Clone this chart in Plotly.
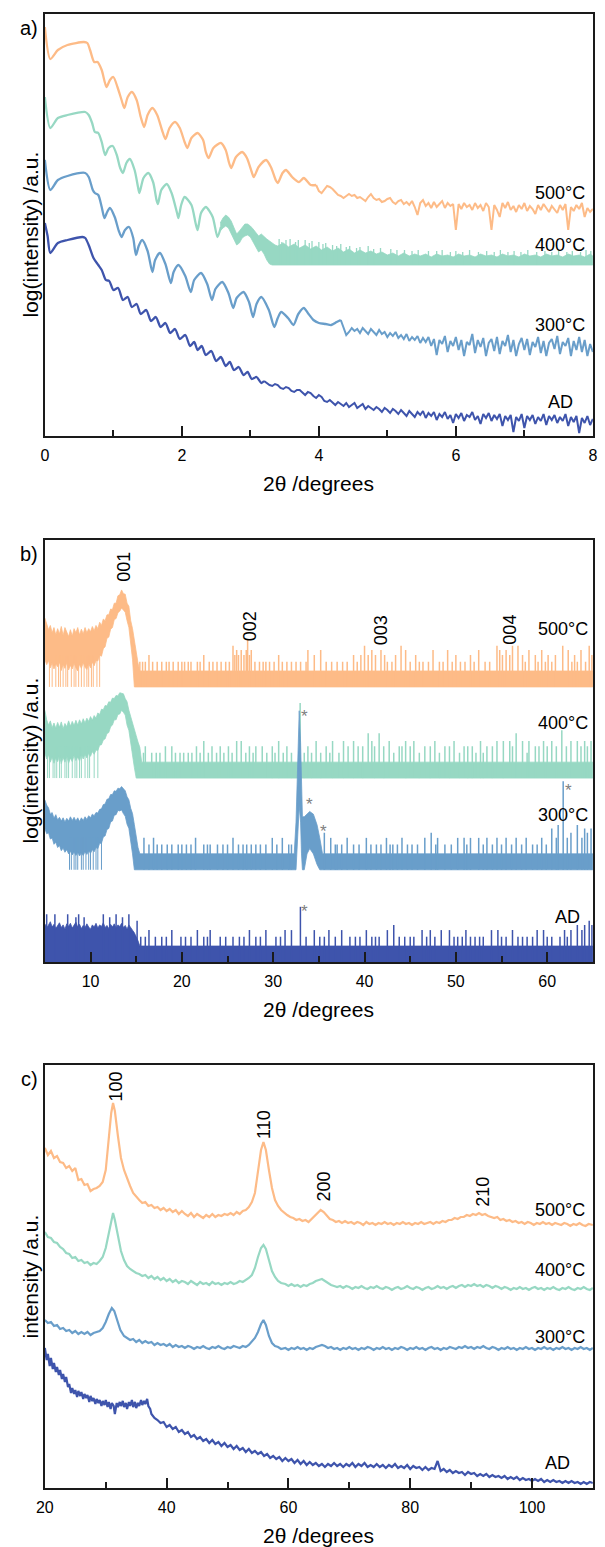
import math
import plotly.graph_objects as go

W, H = 605, 1547
FONT = "Liberation Sans, Arial, Helvetica, sans-serif"
COLORS = {"500": "#FDBB87", "400": "#97D8C3", "300": "#699ECA", "AD": "#3E54AC"}
SERIES_LABELS = {"500": "500°C", "400": "400°C", "300": "300°C", "AD": "AD"}

# ================= Panel a : XRR, log(intensity) in arbitrary units =================
a500_fringes = [(0.00,409),(0.08,377),(0.19,386),(0.33,391),(0.57,394),(0.62,393),(0.66,386),(0.72,374),(0.77,374),
    (0.83,366),(0.90,349),(0.95,356),(1.00,359),(1.06,349),(1.12,336),(1.16,328),(1.21,339),(1.27,344),(1.34,336),
    (1.40,319),(1.45,309),(1.50,321),(1.57,328),(1.64,321),(1.71,306),(1.76,297),(1.82,308),(1.90,314),(1.97,308),
    (2.04,294),(2.08,288),(2.14,298),(2.23,303),(2.31,296),(2.35,284),(2.39,278),(2.46,288),(2.57,293),(2.64,286),
    (2.69,273),(2.72,268),(2.79,279),(2.88,284),(2.95,278),(3.02,264),(3.05,259),(3.12,269),(3.23,276),(3.30,269),
    (3.37,256),(3.40,253),(3.47,263),(3.52,266),(3.61,259),(3.71,254),(3.78,258),(3.88,251),(3.96,251)]
a500_tail = [(3.96,251),(4.00,245),(4.04,243),(4.08,246),(4.12,250),(4.16,249),(4.20,247),(4.24,244),(4.28,241),
    (4.32,240),(4.36,238),(4.40,240),(4.44,242),(4.48,240),(4.52,241),(4.56,238),(4.60,239),(4.64,237),(4.68,235),
    (4.72,239),(4.76,242),(4.80,238),(4.84,236),(4.88,237),(4.92,234),(4.96,235),(5.00,237),(5.04,238),(5.08,234),
    (5.12,232),(5.16,235),(5.20,236),(5.24,232),(5.28,234),(5.32,231),(5.36,235),(5.40,229),(5.44,221),(5.48,233),
    (5.52,236),(5.56,230),(5.60,233),(5.64,228),(5.68,234),(5.72,229),(5.76,232),(5.80,235),(5.84,228),(5.88,233),
    (5.92,230),(5.96,232),(6.00,206),(6.04,232),(6.08,227),(6.12,233),(6.16,229),(6.20,231),(6.24,226),(6.28,233),
    (6.32,228),(6.36,231),(6.40,225),(6.44,233),(6.48,229),(6.52,206),(6.56,231),(6.60,226),(6.64,219),(6.68,233),
    (6.72,228),(6.76,234),(6.80,226),(6.84,230),(6.88,224),(6.92,231),(6.96,227),(7.00,233),(7.04,225),(7.08,230),
    (7.12,227),(7.16,222),(7.20,231),(7.24,226),(7.28,232),(7.32,228),(7.36,224),(7.40,230),(7.44,227),(7.48,223),
    (7.52,231),(7.56,226),(7.60,232),(7.64,206),(7.68,229),(7.72,225),(7.76,231),(7.80,227),(7.84,233),(7.88,219),
    (7.92,228),(7.96,224),(8.00,227)]
a400_fringes = [(0.00,339),(0.08,308),(0.19,318),(0.33,321),(0.59,324),(0.64,321),(0.69,313),(0.73,304),(0.78,303),
    (0.83,294),(0.88,281),(0.93,288),(0.99,290),(1.05,281),(1.10,268),(1.14,263),(1.19,273),(1.24,277),(1.31,266),
    (1.36,249),(1.38,243),(1.44,258),(1.51,263),(1.58,254),(1.63,236),(1.65,232),(1.70,246),(1.78,252),(1.85,243),
    (1.93,223),(1.95,218),(1.99,231),(2.04,239),(2.14,231),(2.20,213),(2.23,206),(2.28,223),(2.35,229),(2.45,219),
    (2.52,199),(2.57,209)]
# noisy / count-limited part of the 400 C scan: (2theta, lower edge, upper edge)
a400_band = [(2.56,205,213),(2.60,208,218),(2.64,210,221),(2.68,208,219),(2.72,203,215),(2.76,197,209),(2.80,191,202),
    (2.84,193,205),(2.88,198,209),(2.92,200,212),(2.96,201,212),(3.00,199,210),(3.04,195,207),(3.08,189,203),
    (3.12,184,200),(3.16,186,202),(3.20,182,199),(3.24,176,197),(3.28,172,195),(3.32,171,193),(3.36,171,191),
    (3.40,171,190),(3.48,171,193),(3.56,171,189),(3.64,171,192),(3.72,171,188),(3.80,171,191),(3.88,171,187),
    (3.96,171,190),(4.04,171,186),(4.12,171,189),(4.20,171,185),(4.28,171,188),(4.36,171,184),(4.44,171,187),
    (4.52,171,183),(4.60,171,186),(4.68,171,183),(4.76,171,185),(4.84,171,182),(4.92,171,184),(5.00,171,181),
    (5.08,171,183),(5.16,171,180),(5.24,171,183),(5.32,171,180),(5.40,171,182),(5.48,171,180),(5.56,171,182),
    (5.64,171,179),(5.72,171,182),(5.80,171,180),(5.88,171,181),(5.96,171,179),(6.04,171,182),(6.12,171,180),
    (6.20,171,181),(6.28,171,179),(6.36,171,182),(6.44,171,180),(6.52,171,181),(6.60,171,179),(6.68,171,182),
    (6.76,171,180),(6.84,171,181),(6.92,171,179),(7.00,171,182),(7.08,171,180),(7.16,171,181),(7.24,171,179),
    (7.32,171,182),(7.40,171,180),(7.48,171,181),(7.56,171,179),(7.64,171,182),(7.72,171,180),(7.80,171,181),
    (7.88,171,179),(7.96,171,182),(8.00,171,180)]
a400_spikes = [(3.42,197),(3.46,194),(3.52,196),(3.58,197),(3.66,194),(3.70,196),(3.80,196),(3.86,193),(3.90,195),
    (4.00,194),(4.06,192),(4.10,193),(4.20,191),(4.26,190),(4.32,192),(4.40,189),(4.45,190),(4.55,188),(4.60,189),
    (4.72,190),(4.80,187),(4.90,188),(5.05,187),(5.14,186),(5.25,186),(5.36,185),(5.45,186),(5.60,185),(5.72,185),
    (5.80,186),(5.92,184),(6.00,185),(6.10,184),(6.20,186),(6.33,184),(6.45,185),(6.56,184),(6.65,186),(6.76,184),
    (6.85,185),(6.95,184),(7.05,186),(7.18,184),(7.30,185),(7.40,184),(7.50,186),(7.62,184),(7.70,185),(7.82,184),
    (7.90,186),(7.97,185)]
a300_fringes = [(0.00,276),(0.08,246),(0.19,256),(0.33,260),(0.59,263),(0.64,259),(0.70,246),(0.73,243),(0.78,241),
    (0.83,229),(0.87,218),(0.91,224),(0.95,228),(1.02,219),(1.08,205),(1.12,199),(1.17,206),(1.23,209),(1.29,198),
    (1.33,181),(1.37,190),(1.42,196),(1.50,185),(1.57,164),(1.61,176),(1.68,183),(1.76,172),(1.84,153),(1.88,164),
    (1.95,171),(2.05,160),(2.13,144),(2.18,156),(2.28,163),(2.37,152),(2.44,136),(2.49,147),(2.59,154),(2.68,143),
    (2.75,128),(2.80,138),(2.90,144),(2.98,134),(3.04,119),(3.09,132),(3.16,139),(3.27,126),(3.35,109),(3.40,118),
    (3.45,124),(3.55,118),(3.63,111),(3.70,122),(3.78,128),(3.85,122),(3.92,116),(4.00,113),(4.10,112),(4.18,111),
    (4.26,114),(4.32,116)]
a300_tail = [(4.32,116),(4.36,108),(4.40,101),(4.44,104),(4.48,108),(4.52,105),(4.56,107),(4.60,103),(4.64,108),
    (4.68,105),(4.72,102),(4.76,107),(4.80,104),(4.84,101),(4.88,106),(4.92,102),(4.96,104),(5.00,99),(5.04,103),
    (5.08,100),(5.12,104),(5.16,98),(5.20,101),(5.24,97),(5.28,102),(5.32,95),(5.36,99),(5.40,96),(5.44,100),
    (5.48,93),(5.52,98),(5.56,94),(5.60,99),(5.64,90),(5.68,97),(5.72,81),(5.76,96),(5.80,92),(5.84,100),(5.88,84),
    (5.92,95),(5.96,90),(6.00,99),(6.04,86),(6.08,96),(6.12,80),(6.16,94),(6.20,91),(6.24,102),(6.28,83),(6.32,96),
    (6.36,89),(6.40,98),(6.44,80),(6.48,93),(6.52,97),(6.56,85),(6.60,99),(6.64,82),(6.68,95),(6.72,90),(6.76,101),
    (6.80,84),(6.84,96),(6.88,80),(6.92,92),(6.96,98),(7.00,86),(7.04,97),(7.08,81),(7.12,94),(7.16,89),(7.20,99),
    (7.24,83),(7.28,95),(7.32,80),(7.36,93),(7.40,97),(7.44,87),(7.48,100),(7.52,82),(7.56,94),(7.60,90),(7.64,98),
    (7.68,80),(7.72,95),(7.76,86),(7.80,99),(7.84,84),(7.88,96),(7.92,80),(7.96,92),(8.00,84)]
aAD_fringes = [(0.00,213),(0.04,200),(0.08,183),(0.19,193),(0.33,196),(0.55,199),(0.59,198),(0.64,191),(0.71,178),
    (0.78,171),(0.83,166),(0.89,156),(0.94,155),(1.00,146),(1.07,148),(1.14,136),(1.21,139),(1.27,129),(1.34,132),
    (1.40,122),(1.48,126),(1.55,115),(1.62,119),(1.69,109),(1.76,113),(1.83,103),(1.90,107),(1.97,97),(2.05,101),
    (2.12,90),(2.18,94),(2.23,86),(2.29,90),(2.35,81),(2.43,85),(2.50,75),(2.57,79),(2.64,70),(2.70,74),(2.76,66),
    (2.83,69),(2.90,61),(2.96,64),(3.02,57),(3.09,59),(3.16,53),(3.20,55)]
aAD_tail = [(3.20,55),(3.24,53),(3.28,51),(3.32,50),(3.36,52),(3.40,51),(3.44,48),(3.48,47),(3.52,49),(3.56,48),
    (3.60,45),(3.64,44),(3.68,46),(3.72,46),(3.76,43),(3.80,41),(3.84,44),(3.88,43),(3.92,40),(3.96,38),(4.00,41),
    (4.04,39),(4.08,35),(4.12,34),(4.16,36),(4.20,33),(4.24,31),(4.28,34),(4.32,32),(4.36,30),(4.40,33),(4.44,29),
    (4.48,31),(4.52,33),(4.56,28),(4.60,30),(4.64,32),(4.68,27),(4.72,30),(4.76,28),(4.80,26),(4.84,29),(4.88,27),
    (4.92,24),(4.96,28),(5.00,26),(5.04,23),(5.08,27),(5.12,25),(5.16,22),(5.20,26),(5.24,23),(5.28,20),(5.32,25),
    (5.36,22),(5.40,19),(5.44,24),(5.48,21),(5.52,25),(5.56,18),(5.60,23),(5.64,20),(5.68,24),(5.72,16),(5.76,22),
    (5.80,19),(5.84,24),(5.88,17),(5.92,21),(5.96,13),(6.00,22),(6.04,18),(6.08,23),(6.12,15),(6.16,21),(6.20,19),
    (6.24,24),(6.28,16),(6.32,20),(6.36,12),(6.40,22),(6.44,18),(6.48,23),(6.52,15),(6.56,21),(6.60,17),(6.64,22),
    (6.68,10),(6.72,20),(6.76,16),(6.80,21),(6.84,4),(6.88,19),(6.92,15),(6.96,22),(7.00,8),(7.04,20),(7.08,16),
    (7.12,21),(7.16,12),(7.20,19),(7.24,15),(7.28,22),(7.32,11),(7.36,20),(7.40,16),(7.44,21),(7.48,13),(7.52,19),
    (7.56,15),(7.60,22),(7.64,10),(7.68,19),(7.72,14),(7.76,20),(7.80,3),(7.84,18),(7.88,13),(7.92,20),(7.96,11),
    (8.00,17)]

# ================= Panel b : GIXRD, log10(counts) above each scan's floor =================
b_offsets = {"500": 5.19, "400": 3.47, "300": 1.74, "AD": 0.0}
# (2theta, lower edge, upper edge) of the dense noise band, decades above floor
b500_band = [(5.0,0.52,1.30),(5.2,0.42,1.18),(5.4,0.50,1.08),(5.6,0.36,1.16),(5.8,0.46,1.02),(6.0,0.34,1.12),
    (6.2,0.44,0.98),(6.4,0.38,1.10),(6.6,0.47,1.00),(6.8,0.31,1.14),(7.0,0.43,0.97),(7.2,0.35,1.12),(7.4,0.46,1.03),
    (7.6,0.32,0.95),(7.8,0.41,1.08),(8.0,0.34,0.96),(8.2,0.45,1.10),(8.4,0.36,1.02),(8.6,0.30,1.12),(8.8,0.43,0.98),
    (9.0,0.35,1.09),(9.2,0.46,1.00),(9.4,0.37,1.12),(9.6,0.33,1.02),(9.8,0.44,1.10),(10.0,0.36,1.04),(10.2,0.47,1.14),
    (10.4,0.40,1.06),(10.6,0.50,1.16),(10.8,0.49,1.10),(11.0,0.60,1.22),(11.2,0.58,1.16),(11.4,0.72,1.28),
    (11.6,0.76,1.25),(11.8,0.92,1.36),(12.0,0.94,1.36),(12.2,1.09,1.47),(12.4,1.12,1.46),(12.6,1.27,1.58),
    (12.8,1.29,1.58),(13.0,1.40,1.72),(13.2,1.43,1.74),(13.4,1.49,1.83),(13.6,1.45,1.76),(13.8,1.41,1.75),
    (14.0,1.25,1.58),(14.2,1.12,1.52),(14.4,0.82,1.25),(14.6,0.52,1.10),(14.8,0.0,0.85),(15.0,0.0,0.62),
    (15.2,0.0,0.45),(15.4,0.0,0.301),(65.0,0.0,0.301)]
b400_band = [(5.0,0.48,1.28),(5.2,0.36,1.10),(5.4,0.44,1.00),(5.6,0.30,1.08),(5.8,0.40,0.95),(6.0,0.28,1.04),
    (6.2,0.38,0.94),(6.4,0.31,1.05),(6.6,0.42,0.96),(6.8,0.27,1.06),(7.0,0.39,0.93),(7.2,0.30,1.03),(7.4,0.41,0.97),
    (7.6,0.28,1.08),(7.8,0.38,0.98),(8.0,0.31,1.07),(8.2,0.43,0.99),(8.4,0.33,1.09),(8.6,0.40,1.00),(8.8,0.32,1.10),
    (9.0,0.44,1.02),(9.2,0.36,1.12),(9.4,0.45,1.04),(9.6,0.38,1.13),(9.8,0.47,1.07),(10.0,0.41,1.16),(10.2,0.50,1.09),
    (10.4,0.45,1.18),(10.6,0.53,1.13),(10.8,0.52,1.23),(11.0,0.62,1.20),(11.2,0.63,1.30),(11.4,0.72,1.29),
    (11.6,0.74,1.37),(11.8,0.84,1.36),(12.0,0.86,1.44),(12.2,0.97,1.43),(12.4,1.00,1.51),(12.6,1.10,1.50),
    (12.8,1.10,1.56),(13.0,1.20,1.55),(13.2,1.21,1.61),(13.4,1.28,1.60),(13.6,1.24,1.59),(13.8,1.19,1.50),
    (14.0,1.00,1.44),(14.2,0.90,1.28),(14.4,0.70,1.17),(14.6,0.47,1.03),(14.8,0.20,0.94),(15.0,0.0,0.80),
    (15.2,0.0,0.68),(15.4,0.0,0.58),(15.6,0.0,0.301),(65.0,0.0,0.301)]
b300_band = [(5.0,0.78,1.32),(5.2,0.68,1.22),(5.4,0.70,1.17),(5.6,0.58,1.05),(5.8,0.60,1.08),(6.0,0.48,0.97),
    (6.2,0.52,1.04),(6.4,0.42,0.94),(6.6,0.46,0.99),(6.8,0.36,0.92),(7.0,0.41,0.98),(7.2,0.33,0.90),(7.4,0.38,0.97),
    (7.6,0.30,0.92),(7.8,0.35,1.00),(8.0,0.28,0.93),(8.2,0.34,0.99),(8.4,0.27,0.92),(8.6,0.33,0.98),(8.8,0.26,0.91),
    (9.0,0.32,0.98),(9.2,0.27,0.93),(9.4,0.34,1.00),(9.6,0.29,0.95),(9.8,0.36,1.02),(10.0,0.31,0.98),(10.2,0.38,1.05),
    (10.4,0.34,1.02),(10.6,0.42,1.08),(10.8,0.40,1.07),(11.0,0.50,1.14),(11.2,0.50,1.15),(11.4,0.62,1.23),
    (11.6,0.64,1.24),(11.8,0.76,1.33),(12.0,0.78,1.34),(12.2,0.90,1.42),(12.4,0.92,1.42),(12.6,1.03,1.49),
    (12.8,1.04,1.48),(13.0,1.12,1.54),(13.2,1.11,1.53),(13.4,1.13,1.57),(13.6,1.06,1.52),(13.8,1.01,1.49),
    (14.0,0.86,1.38),(14.2,0.78,1.32),(14.4,0.53,1.16),(14.6,0.30,1.06),(14.8,0.0,0.85),(15.0,0.0,0.60),
    (15.2,0.0,0.42),(15.4,0.0,0.301),(32.3,0.0,0.301),(32.5,0.0,0.90),(32.7,0.60,2.20),(32.85,1.20,3.00),
    (33.0,0.90,2.40),(33.1,0.30,1.30),(33.2,0.0,1.00),(33.4,0.0,1.00),(33.7,0.30,1.05),(34.0,0.40,1.10),
    (34.4,0.30,1.05),(34.8,0.10,0.85),(35.1,0.0,0.60),(35.4,0.0,0.301),(65.0,0.0,0.301)]
bAD_band = [(5.0,0.0,0.72),(5.2,0.0,0.64),(5.4,0.0,0.70),(5.6,0.0,0.76),(5.8,0.0,0.66),(6.0,0.0,0.71),(6.2,0.0,0.63),
    (6.4,0.0,0.69),(6.6,0.0,0.74),(6.8,0.0,0.65),(7.0,0.0,0.70),(7.2,0.0,0.62),(7.4,0.0,0.72),(7.6,0.0,0.67),
    (7.8,0.0,0.73),(8.0,0.0,0.64),(8.2,0.0,0.70),(8.4,0.0,0.75),(8.6,0.0,0.66),(8.8,0.0,0.71),(9.0,0.0,0.63),
    (9.2,0.0,0.69),(9.4,0.0,0.65),(9.6,0.0,0.72),(9.8,0.0,0.66),(10.0,0.0,0.62),(10.2,0.0,0.70),(10.4,0.0,0.66),
    (10.6,0.0,0.73),(10.8,0.0,0.64),(11.0,0.0,0.70),(11.2,0.0,0.67),(11.4,0.0,0.74),(11.6,0.0,0.65),(11.8,0.0,0.69),
    (12.0,0.0,0.63),(12.2,0.0,0.71),(12.4,0.0,0.66),(12.6,0.0,0.72),(12.8,0.0,0.64),(13.0,0.0,0.70),(13.2,0.0,0.67),
    (13.4,0.0,0.73),(13.6,0.0,0.65),(13.8,0.0,0.69),(14.0,0.0,0.62),(14.2,0.0,0.70),(14.4,0.0,0.64),(14.6,0.0,0.60),
    (14.8,0.0,0.55),(15.0,0.0,0.48),(15.2,0.0,0.40),(15.4,0.0,0.301),(65.0,0.0,0.301)]
# isolated count spikes above the band: (2theta, counts)
b500_spikes = [(15.4,3),(15.7,3),(16.0,3),(16.4,4),(16.8,3),(17.3,3),(17.8,3),(18.3,3),(18.6,3),(19.05,3),(19.6,3),
    (20.0,3),(20.3,3),(20.7,3),(21.0,3),(21.7,3),(22.0,3),(22.4,4),(23.0,3),(23.4,3),(23.85,3),(24.3,3),(24.8,3),
    (25.2,3),(25.6,6),(25.8,4),(26.0,5),(26.2,4),(26.5,5),(26.8,4),(27.05,5),(27.2,8),(27.4,4),(27.6,5),(28.0,3),
    (28.5,3),(28.9,3),(29.2,3),(29.6,3),(30.1,3),(30.6,4),(31.0,3),(31.5,3),(32.0,3),(32.5,3),(33.0,3),(33.6,3),
    (33.8,5),(34.5,4),(35.2,5),(35.8,3),(36.4,3),(37.0,3),(37.6,3),(38.1,3),(38.8,4),(39.2,3),(39.6,4),(40.0,6),
    (40.4,4),(40.8,5),(41.2,4),(41.8,5),(42.2,4),(42.5,3),(43.0,3),(43.4,4),(44.0,6),(44.5,5),(45.0,3),(45.6,4),
    (46.0,3),(46.4,3),(47.0,3),(47.5,5),(48.2,3),(48.6,3),(49.1,5),(49.6,3),(50.0,4),(50.5,3),(51.0,3),(51.6,4),
    (52.0,3),(52.5,5),(53.2,3),(53.7,3),(54.5,6),(54.8,5),(55.1,4),(55.5,5),(55.9,4),(56.2,6),(56.8,6),(57.3,4),
    (57.6,3),(58.0,5),(58.7,4),(59.0,3),(59.4,5),(59.8,3),(60.1,4),(60.5,3),(60.9,4),(61.7,6),(62.3,5),(62.7,3),
    (63.0,4),(63.3,3),(63.7,5),(64.2,3),(64.6,6),(64.9,4)]
b400_spikes = [(15.8,3),(16.0,4),(16.7,3),(17.2,3),(17.6,3),(18.2,4),(18.9,4),(19.3,3),(19.8,3),(20.2,3),(20.7,3),
    (21.1,3),(21.6,4),(22.0,3),(22.4,5),(22.9,3),(23.3,4),(23.8,3),(24.2,4),(24.6,3),(25.1,4),(25.5,3),(26.0,5),
    (26.5,5),(27.0,3),(27.4,4),(27.8,3),(28.1,4),(28.8,4),(29.3,3),(29.9,4),(30.2,3),(30.6,5),(31.1,3),(31.5,4),
    (32.0,3),(32.95,26),(33.4,3),(33.8,4),(34.2,3),(34.7,5),(35.2,3),(35.8,4),(36.2,3),(36.5,5),(37.2,3),(37.7,5),
    (38.2,4),(38.8,5),(39.3,4),(39.8,4),(40.4,7),(40.8,5),(41.1,4),(41.6,7),(42.1,4),(42.7,5),(43.2,3),(43.8,4),
    (44.1,4),(44.5,5),(45.0,4),(45.4,5),(46.0,3),(46.6,4),(47.2,4),(47.7,5),(48.2,3),(48.8,4),(49.3,4),(49.8,5),
    (50.4,3),(50.9,4),(51.3,4),(51.8,4),(52.2,3),(52.7,5),(53.0,3),(53.4,4),(54.0,4),(54.5,5),(55.2,5),(55.9,5),
    (56.2,4),(56.6,7),(57.3,5),(57.8,3),(58.0,5),(58.7,4),(59.1,4),(59.6,5),(60.0,4),(60.5,5),(61.0,4),(61.6,8),
    (62.1,4),(62.6,5),(63.3,5),(63.7,4),(64.1,5),(64.4,4),(64.8,5)]
b300_spikes = [(15.85,4),(16.4,3),(16.9,4),(17.3,3),(17.8,3),(18.4,3),(18.9,3),(19.6,3),(20.0,3),(20.5,3),(21.0,3),
    (21.5,4),(22.4,3),(22.8,3),(23.1,3),(23.9,3),(24.5,3),(25.0,3),(25.6,4),(26.2,3),(26.7,3),(27.1,3),(27.6,3),
    (28.1,3),(28.6,3),(29.2,3),(29.9,4),(30.4,3),(31.0,4),(31.7,3),(32.0,3),(35.6,5),(36.3,4),(36.8,3),(37.0,3),
    (37.5,3),(38.1,4),(38.8,3),(39.4,3),(40.2,4),(40.7,3),(41.3,3),(41.8,3),(42.4,4),(42.8,3),(43.1,3),(43.6,3),
    (44.1,4),(44.7,3),(45.2,3),(45.8,3),(46.6,4),(47.3,5),(47.8,3),(48.0,4),(48.8,3),(49.5,3),(50.2,4),(50.9,4),
    (51.2,3),(51.6,4),(52.5,4),(53.0,3),(53.4,4),(54.0,3),(54.5,4),(55.0,3),(55.5,4),(56.1,3),(56.6,4),(57.2,3),
    (57.7,4),(58.4,3),(58.9,3),(59.4,4),(59.9,3),(60.5,6),(61.0,4),(61.2,7),(61.75,47),(62.2,4),(62.6,5),(63.3,7),
    (63.8,4),(64.1,6),(64.4,5),(64.8,6)]
bAD_spikes = [(5.2,8),(6.1,8),(7.5,8),(8.4,7),(8.7,8),(9.3,7),(11.4,8),(12.1,7),(12.8,8),(13.5,7),(14.2,8),(15.1,6),
    (15.5,3),(16.0,3),(16.4,4),(17.1,3),(17.8,3),(18.3,3),(18.9,4),(19.9,3),(20.4,3),(21.0,3),(21.7,4),(22.4,3),
    (22.8,3),(23.1,4),(24.2,3),(24.8,3),(25.6,3),(26.3,3),(26.8,3),(27.4,4),(28.1,3),(28.6,3),(29.2,4),(30.3,3),
    (30.8,3),(31.3,4),(32.0,4),(32.98,11),(33.6,3),(34.5,4),(35.1,3),(35.6,3),(36.1,4),(36.8,3),(37.5,4),(38.4,3),
    (39.0,3),(39.5,3),(40.2,4),(40.8,3),(41.2,3),(41.6,3),(42.5,4),(43.2,5),(43.8,3),(44.4,3),(45.0,3),(45.4,3),
    (46.3,4),(46.8,3),(47.2,4),(47.7,3),(48.4,4),(49.3,4),(49.8,3),(50.2,3),(50.7,3),(51.1,4),(51.6,3),(52.1,3),
    (52.6,3),(53.0,3),(53.9,4),(54.6,4),(55.0,3),(55.5,3),(56.2,4),(56.8,3),(57.3,3),(57.8,3),(58.4,3),(58.9,4),
    (59.6,4),(60.0,3),(60.5,3),(61.4,3),(61.9,4),(62.2,3),(62.6,4),(63.3,5),(63.8,4),(64.1,5),(64.6,6),(64.9,5)]
# positions where the low-angle noise drops to the floor
b500_dips = [5.5, 5.8, 6.2, 6.5, 6.7, 7.0, 7.3, 7.5, 7.9, 8.2, 8.4, 8.7, 9.0, 9.3, 9.6, 9.8, 10.1, 10.3, 10.7, 11.0]
b400_dips = [5.3, 5.5, 5.9, 6.1, 6.3, 6.6, 6.8, 7.2, 7.4, 7.6, 8.0, 8.3, 8.5, 8.8, 9.0, 9.4, 9.7, 9.9, 10.4, 10.8]
b300_dips = [7.7, 7.9, 8.2, 8.4, 8.6, 9.0, 9.2, 9.5, 9.8, 10.0, 10.3, 10.6, 10.8, 11.2]
b_hkl = ["001", "002", "003", "004"]

# ================= Panel c : in-plane, intensity in arbitrary units =================
c500 = [(20.0,340),(20.5,333),(21.0,337),(21.5,330),(22.0,332),(22.5,326),(23.0,325),(23.5,320),(24.0,322),
    (24.5,317),(25.0,320),(25.5,308),(26.0,309),(26.5,303),(27.0,304),(27.5,297),(28.0,299),(28.5,300),(29.0,302),
    (29.5,306),(30.0,318),(30.5,348),(30.9,375),(31.2,385),(31.5,377),(32.0,352),(32.5,330),(33.0,318),(33.5,309),
    (34.0,302),(34.5,295),(35.0,291),(35.5,288),(36.0,285),(36.5,286),(37.0,282),(37.5,283),(38.0,280),(38.5,281),
    (39.0,278),(39.5,280),(40.0,277),(40.5,279),(41.0,276),(41.5,278),(42.0,274),(42.5,277),(43.0,274),(43.5,272),
    (44.0,275),(44.5,271),(45.0,274),(45.5,272),(46.0,270),(46.5,273),(47.0,271),(47.5,274),(48.0,271),(48.5,273),
    (49.0,272),(49.5,274),(50.0,273),(50.5,275),(51.0,273),(51.5,276),(52.0,274),(52.5,277),(53.0,278),(53.5,281),
    (54.0,286),(54.5,295),(55.0,316),(55.5,338),(55.9,346),(56.3,338),(56.8,318),(57.3,300),(57.8,288),(58.3,282),
    (58.8,278),(59.3,275),(59.8,273),(60.3,271),(60.8,270),(61.3,268),(61.8,269),(62.3,267),(62.8,268),(63.3,266),
    (63.8,269),(64.3,272),(64.8,275),(65.3,278),(65.8,276),(66.3,273),(66.8,269),(67.3,268),(67.8,266),(68.3,267),
    (68.8,265),(69.3,267),(69.8,265),(70.3,266),(70.8,264),(71.3,266),(71.8,265),(72.3,263),(72.8,266),(73.3,264),
    (73.8,265),(74.3,263),(74.8,265),(75.3,264),(75.8,266),(76.3,264),(76.8,265),(77.3,263),(77.8,265),(78.3,264),
    (78.8,266),(79.3,264),(79.8,265),(80.3,263),(80.8,265),(81.3,264),(81.8,266),(82.3,264),(82.8,265),(83.3,266),
    (83.8,264),(84.3,266),(84.8,265),(85.3,267),(85.8,266),(86.3,268),(86.8,268),(87.3,270),(87.8,269),(88.3,271),
    (88.8,271),(89.3,273),(89.8,272),(90.3,274),(90.8,273),(91.3,275),(91.8,273),(92.3,274),(92.8,272),(93.3,271),
    (93.8,270),(94.3,271),(94.8,268),(95.3,269),(95.8,267),(96.3,268),(96.8,266),(97.3,267),(97.8,265),(98.3,266),
    (98.8,264),(99.3,266),(99.8,265),(100.3,263),(100.8,265),(101.3,264),(101.8,266),(102.3,264),(102.8,265),
    (103.3,263),(103.8,265),(104.3,264),(104.8,263),(105.3,265),(105.8,264),(106.3,262),(106.8,264),(107.3,263),
    (107.8,265),(108.3,263),(108.8,262),(109.3,264),(110.0,263)]
c400 = [(20.0,256),(20.5,251),(21.0,250),(21.5,246),(22.0,245),(22.5,241),(23.0,239),(23.5,235),(24.0,234),(24.5,230),
    (25.0,231),(25.5,227),(26.0,228),(26.5,225),(27.0,226),(27.5,223),(28.0,225),(28.5,224),(29.0,227),(29.5,231),
    (30.0,240),(30.5,256),(31.0,271),(31.2,275),(31.5,268),(32.0,251),(32.5,237),(33.0,228),(33.5,222),(34.0,219),
    (34.5,217),(35.0,215),(35.5,214),(36.0,212),(36.5,213),(37.0,210),(37.5,212),(38.0,209),(38.5,211),(39.0,208),
    (39.5,210),(40.0,207),(40.5,209),(41.0,206),(41.5,208),(42.0,205),(42.5,207),(43.0,206),(43.5,204),(44.0,207),
    (44.5,205),(45.0,203),(45.5,206),(46.0,204),(46.5,205),(47.0,203),(47.5,206),(48.0,204),(48.5,205),(49.0,203),
    (49.5,205),(50.0,204),(50.5,206),(51.0,204),(51.5,205),(52.0,207),(52.5,206),(53.0,208),(53.5,210),(54.0,213),
    (54.5,220),(55.0,231),(55.5,240),(55.9,243),(56.3,239),(56.8,228),(57.3,217),(57.8,211),(58.3,207),(58.8,205),
    (59.5,204),(60.0,202),(60.5,204),(61.0,202),(61.5,203),(62.0,201),(62.5,203),(63.0,202),(63.5,204),(64.0,205),
    (64.5,207),(65.0,208),(65.5,209),(66.0,207),(66.5,205),(67.0,203),(67.5,202),(68.0,201),(68.5,202),(69.0,200),
    (69.5,202),(70.0,201),(70.5,199),(71.0,201),(71.5,200),(72.0,202),(72.5,200),(73.0,199),(73.5,201),(74.0,200),
    (74.5,202),(75.0,200),(75.5,199),(76.0,201),(76.5,200),(77.0,198),(77.5,200),(78.0,201),(78.5,199),(79.0,200),
    (79.5,202),(80.0,200),(80.5,199),(81.0,201),(81.5,200),(82.0,198),(82.5,200),(83.0,201),(83.5,199),(84.0,200),
    (84.5,202),(85.0,200),(85.5,201),(86.0,199),(86.5,201),(87.0,202),(87.5,200),(88.0,202),(88.5,203),(89.0,201),
    (89.5,203),(90.0,202),(90.5,204),(91.0,202),(91.5,203),(92.0,201),(92.5,203),(93.0,202),(93.5,200),(94.0,202),
    (94.5,201),(95.0,199),(95.5,201),(96.0,200),(96.5,198),(97.0,200),(97.5,199),(98.0,201),(98.5,199),(99.0,200),
    (99.5,198),(100.0,200),(100.5,201),(101.0,199),(101.5,200),(102.0,198),(102.5,200),(103.0,199),(103.5,201),
    (104.0,199),(104.5,198),(105.0,200),(105.5,199),(106.0,201),(106.5,199),(107.0,198),(107.5,200),(108.0,199),
    (108.5,201),(109.0,199),(109.5,198),(110.0,200)]
c300 = [(20.0,168),(20.5,165),(21.0,166),(21.5,162),(22.0,163),(22.5,159),(23.0,160),(23.5,157),(24.0,158),(24.5,155),
    (25.0,157),(25.5,154),(26.0,156),(26.5,154),(27.0,156),(27.5,153),(28.0,155),(28.5,156),(29.0,157),(29.5,160),
    (30.0,166),(30.5,174),(31.0,180),(31.4,177),(31.9,168),(32.4,158),(33.0,152),(33.5,150),(34.0,148),(34.5,149),
    (35.0,146),(35.5,148),(36.0,145),(36.5,147),(37.0,145),(37.5,146),(38.0,143),(38.5,145),(39.0,143),(39.5,144),
    (40.0,142),(40.5,144),(41.0,141),(41.5,143),(42.0,141),(42.5,142),(43.0,140),(43.5,142),(44.0,141),(44.5,139),
    (45.0,141),(45.5,140),(46.0,142),(46.5,140),(47.0,139),(47.5,141),(48.0,140),(48.5,142),(49.0,140),(49.5,139),
    (50.0,141),(50.5,140),(51.0,142),(51.5,141),(52.0,140),(52.5,142),(53.0,141),(53.5,143),(54.0,146),(54.5,150),
    (55.0,156),(55.5,164),(55.9,168),(56.3,163),(56.8,152),(57.3,145),(57.8,142),(58.3,141),(58.8,139),(59.5,140),
    (60.0,138),(60.5,140),(61.0,139),(61.5,141),(62.0,139),(62.5,140),(63.0,138),(63.5,140),(64.0,139),(64.5,141),
    (65.0,142),(65.5,143),(66.0,142),(66.5,140),(67.0,141),(67.5,139),(68.0,140),(68.5,138),(69.0,140),(69.5,139),
    (70.0,141),(70.5,139),(71.0,140),(71.5,138),(72.0,140),(72.5,139),(73.0,141),(73.5,140),(74.0,138),(74.5,140),
    (75.0,139),(75.5,141),(76.0,139),(76.5,140),(77.0,138),(77.5,140),(78.0,139),(78.5,141),(79.0,140),(79.5,138),
    (80.0,140),(80.5,139),(81.0,141),(81.5,139),(82.0,140),(82.5,138),(83.0,140),(83.5,141),(84.0,139),(84.5,140),
    (85.0,138),(85.5,140),(86.0,139),(86.5,141),(87.0,140),(87.5,139),(88.0,141),(88.5,140),(89.0,142),(89.5,140),
    (90.0,141),(90.5,139),(91.0,141),(91.5,140),(92.0,142),(92.5,140),(93.0,139),(93.5,141),(94.0,140),(94.5,138),
    (95.0,140),(95.5,139),(96.0,141),(96.5,139),(97.0,140),(97.5,138),(98.0,140),(98.5,139),(99.0,141),(99.5,139),
    (100.0,140),(100.5,138),(101.0,140),(101.5,139),(102.0,141),(102.5,139),(103.0,140),(103.5,138),(104.0,140),
    (104.5,139),(105.0,141),(105.5,139),(106.0,140),(106.5,138),(107.0,140),(107.5,139),(108.0,141),(108.5,139),
    (109.0,140),(109.5,138),(110.0,140)]
cAD = [(20.0,140),(20.3,128),(20.5,134),(20.8,122),(21.0,130),(21.3,119),(21.5,125),(21.8,116),(22.0,121),(22.3,113),
    (22.5,118),(22.8,109),(23.0,114),(23.3,106),(23.5,111),(23.8,101),(24.0,104),(24.3,95),(24.5,100),(24.8,94),
    (25.0,98),(25.3,91),(25.5,97),(25.8,92),(26.0,96),(26.3,89),(26.5,94),(26.8,90),(27.0,93),(27.3,86),(27.5,92),
    (27.8,87),(28.0,90),(28.3,84),(28.5,89),(28.8,85),(29.0,88),(29.3,82),(29.5,87),(29.8,83),(30.0,88),(30.3,81),
    (30.5,86),(30.8,79),(31.0,85),(31.3,82),(31.5,74),(31.8,85),(32.0,81),(32.3,86),(32.5,82),(32.8,87),(33.0,81),
    (33.3,85),(33.5,79),(33.8,86),(34.0,82),(34.3,88),(34.5,81),(34.8,86),(35.0,80),(35.3,85),(35.5,82),(35.8,88),
    (36.0,83),(36.3,87),(36.5,84),(36.8,89),(37.0,82),(37.3,79),(37.5,74),(37.8,72),(38.0,70),(38.5,68),(39.0,65),
    (39.5,66),(40.0,61),(40.5,63),(41.0,59),(41.5,61),(42.0,56),(42.5,58),(43.0,54),(43.5,56),(44.0,51),(44.5,53),
    (45.0,49),(45.5,51),(46.0,47),(46.5,49),(47.0,45),(47.5,48),(48.0,44),(48.5,46),(49.0,42),(49.5,45),(50.0,41),
    (50.5,43),(51.0,39),(51.5,42),(52.0,38),(52.5,40),(53.0,36),(53.5,39),(54.0,35),(54.5,37),(55.0,34),(55.5,36),
    (56.0,32),(56.5,34),(57.0,30),(57.5,32),(58.0,29),(58.5,31),(59.0,27),(59.5,30),(60.0,27),(60.5,29),(61.0,25),
    (61.5,28),(62.0,24),(62.5,27),(63.0,23),(63.5,26),(64.0,23),(64.5,25),(65.0,22),(65.5,24),(66.0,21),(66.5,24),
    (67.0,22),(67.5,25),(68.0,22),(68.5,24),(69.0,21),(69.5,24),(70.0,22),(70.5,25),(71.0,21),(71.5,24),(72.0,22),
    (72.5,25),(73.0,21),(73.5,23),(74.0,21),(74.5,24),(75.0,21),(75.5,23),(76.0,20),(76.5,23),(77.0,21),(77.5,24),
    (78.0,20),(78.5,22),(79.0,20),(79.5,23),(80.0,19),(80.5,22),(81.0,20),(81.5,21),(82.0,18),(82.5,21),(83.0,18),
    (83.5,20),(84.0,19),(84.5,27),(84.8,19),(85.0,17),(85.5,19),(86.0,16),(86.5,18),(87.0,15),(87.5,17),(88.0,15),
    (88.5,16),(89.0,13),(89.5,16),(90.0,14),(90.5,15),(91.0,12),(91.5,14),(92.0,12),(92.5,14),(93.0,11),(93.5,13),
    (94.0,11),(94.5,12),(95.0,10),(95.5,12),(96.0,9),(96.5,11),(97.0,9),(97.5,11),(98.0,8),(98.5,10),(99.0,8),
    (99.5,9),(100.0,7),(100.5,9),(101.0,7),(101.5,9),(102.0,6),(102.5,8),(103.0,6),(103.5,8),(104.0,6),(104.5,7),
    (105.0,5),(105.5,7),(106.0,5),(106.5,7),(107.0,5),(107.5,6),(108.0,4),(108.5,6),(109.0,4),(109.5,6),(110.0,5)]
c_hkl = ["100", "110", "200", "210"]

# ================= drawing =================
def px(x):
    return x / W

def py(y):
    return 1 - y / H

fig = go.Figure()

def line(pairs, color, xa, ya, shape="linear", width=2.3):
    fig.add_trace(go.Scatter(x=[p[0] for p in pairs], y=[p[1] for p in pairs], mode="lines", xaxis=xa, yaxis=ya,
                             hoverinfo="skip", showlegend=False,
                             line=dict(color=color, width=width, shape=shape, smoothing=0.7)))

def band(triples, off, color, xa, ya, width=0.8):
    xs = [t[0] for t in triples]
    lo = [t[1] + off for t in triples]
    hi = [t[2] + off for t in triples]
    fig.add_trace(go.Scatter(x=xs + xs[::-1], y=hi + lo[::-1], mode="lines", fill="toself", fillcolor=color,
                             line=dict(color=color, width=width), xaxis=xa, yaxis=ya, hoverinfo="skip",
                             showlegend=False))

def vlines(xs, y0s, y1s, color, xa, ya, width=1.5):
    X, Y = [], []
    for x, a, b in zip(xs, y0s, y1s):
        X += [x, x, None]
        Y += [a, b, None]
    fig.add_trace(go.Scatter(x=X, y=Y, mode="lines", line=dict(color=color, width=width), xaxis=xa, yaxis=ya,
                             hoverinfo="skip", showlegend=False))

# panel a
line(a500_fringes, COLORS["500"], "x", "y", shape="spline")
line(a500_tail, COLORS["500"], "x", "y", width=2.0)
line(a400_fringes, COLORS["400"], "x", "y", shape="spline")
band(a400_band, 0, COLORS["400"], "x", "y")
vlines([s[0] for s in a400_spikes], [171] * len(a400_spikes), [s[1] for s in a400_spikes], COLORS["400"], "x", "y",
       width=1.3)
line(a300_fringes, COLORS["300"], "x", "y", shape="spline")
line(a300_tail, COLORS["300"], "x", "y", width=2.0)
line(aAD_fringes, COLORS["AD"], "x", "y", shape="spline")
line(aAD_tail, COLORS["AD"], "x", "y", width=2.0)

# panel b
for key, bnd, spk, dips in [("500", b500_band, b500_spikes, b500_dips), ("400", b400_band, b400_spikes, b400_dips),
                            ("300", b300_band, b300_spikes, b300_dips), ("AD", bAD_band, bAD_spikes, [])]:
    off = b_offsets[key]
    col = COLORS[key]
    band(bnd, off, col, "x2", "y2")
    vlines([s[0] for s in spk], [off] * len(spk), [off + math.log10(s[1]) for s in spk], col, "x2", "y2")
    if dips:
        vlines(dips, [off] * len(dips), [off + 0.6] * len(dips), col, "x2", "y2", width=1.0)

# panel c
for key, data in [("500", c500), ("400", c400), ("300", c300), ("AD", cAD)]:
    line(data, COLORS[key], "x3", "y3", width=2.2)

# ================= axes & text =================
AX = "#1a1a1a"
XD = [px(36.7), px(597.7)]

def xaxis(rng, dt, mdt, anchor):
    return dict(domain=XD, range=rng, anchor=anchor, dtick=dt, tick0=0, showline=True, linecolor=AX, linewidth=1.6,
                mirror=True, ticks="inside", ticklen=10, tickwidth=1.6, tickcolor=AX, showgrid=False, zeroline=False,
                tickfont=dict(family=FONT, size=16, color="black"), ticklabelstandoff=4,
                minor=dict(dtick=mdt, tick0=0, ticks="inside", ticklen=6, tickwidth=1.6, tickcolor=AX, showgrid=False))

def yaxis(top, bottom, rng, anchor):
    return dict(domain=[py(bottom), py(top)], range=rng, anchor=anchor, showline=True, linecolor=AX, linewidth=1.6,
                mirror=True, ticks="", showticklabels=False, showgrid=False, zeroline=False)

annotations = []

def ann(text, x, y, size=18, xanchor="center", angle=0, color="black"):
    annotations.append(dict(text=text, x=px(x), y=py(y), xref="paper", yref="paper", xanchor=xanchor, yanchor="middle",
                            showarrow=False, textangle=angle, font=dict(family=FONT, size=size, color=color)))

panels = [(14, 436, "a)", "log(intensity) /a.u.", 235), (540, 962, "b)", "log(intensity) /a.u.", 761),
          (1065, 1488, "c)", "intensity /a.u.", 1277)]
for top, bottom, lab, ytitle, ymid in panels:
    ann(lab, 32, top + 14, size=20, xanchor="right")
    ann("2θ /degrees", 317, bottom + 47, size=21)
    ann(ytitle, 21, ymid, size=21, angle=-90)

for key, x, y in [("500", 592, 193), ("400", 592, 245), ("300", 592, 325), ("AD", 579, 402),
                  ("500", 595, 629), ("400", 595, 723), ("300", 595, 815), ("AD", 587, 917),
                  ("500", 592, 1210), ("400", 592, 1270), ("300", 592, 1337), ("AD", 576, 1463)]:
    ann(SERIES_LABELS[key], x, y, xanchor="right")

for t, x, y in zip(b_hkl, [117.5, 247, 381, 512.5], [567, 626, 630, 630]):
    ann(t, x, y, angle=-90)
for t, x, y in zip(c_hkl, [110, 261, 322, 485], [1086, 1124, 1187, 1192]):
    ann(t, x, y, angle=-90)

for x, y in [(303, 712), (308, 800), (322, 827), (302, 907), (573, 787)]:
    ann("*", x, y + 4, size=17, color="#808080")

fig.update_layout(
    width=W, height=H, autosize=False, margin=dict(l=0, r=0, t=0, b=0),
    paper_bgcolor="white", plot_bgcolor="white", showlegend=False,
    font=dict(family=FONT, color="black"),
    xaxis=xaxis([0, 8], 2, 1, "y"), yaxis=yaxis(14, 436, [0, 422], "x"),
    xaxis2=xaxis([5, 65], 10, 5, "y2"), yaxis2=yaxis(540, 962, [0, 422 / 53], "x2"),
    xaxis3=xaxis([20, 110], 20, 10, "y3"), yaxis3=yaxis(1065, 1488, [0, 423], "x3"),
    annotations=annotations,
)

fig.write_html("out.html", include_plotlyjs=True, full_html=True, config={"displayModeBar": False})
